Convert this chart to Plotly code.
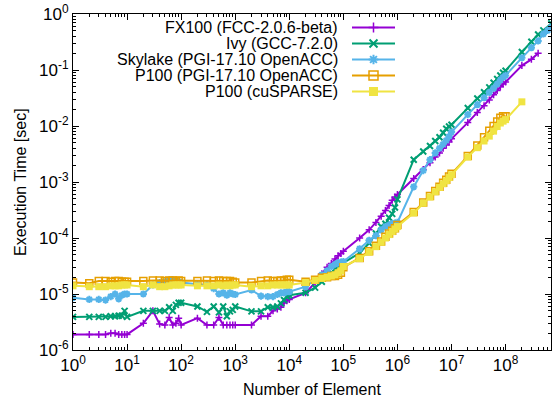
import plotly.graph_objects as go

# ---------------- data ----------------
X = [1, 2, 3, 4, 5, 6, 7, 8, 9,
     10, 20, 30, 40, 50, 60, 70, 80, 90,
     100, 200, 300, 400, 500, 600, 700, 800, 900,
     1e3, 2e3, 3e3, 4e3, 5e3, 6e3, 7e3, 8e3, 9e3,
     1e4, 2e4, 3e4, 4e4, 5e4, 6e4, 7e4, 8e4, 9e4,
     1e5, 2e5, 3e5, 4e5, 5e5, 6e5, 7e5, 8e5, 9e5,
     1e6, 2e6, 3e6, 4e6, 5e6, 6e6, 7e6, 8e6, 9e6,
     1e7, 2e7, 3e7, 4e7, 5e7, 6e7, 7e7, 8e7, 9e7,
     1e8, 2e8, 3e8, 4e8, 5e8, 6e8, 7e8]

fx100 = [1.9e-6, 1.9e-6, 1.9e-6, 1.9e-6, 2.0e-6, 2.0e-6, 1.9e-6, 1.9e-6, 1.9e-6,
         1.9e-6, 3.0e-6, 5.0e-6, 2.9e-6, 2.8e-6, 3.8e-6, 2.8e-6, 3.0e-6, 3.7e-6,
         2.8e-6, 3.7e-6, 2.8e-6, 2.8e-6, 3.8e-6, 2.8e-6, 2.8e-6, 2.8e-6, 2.8e-6,
         2.8e-6, 2.8e-6, 4.0e-6, 4.0e-6, 5.0e-6, 5.4e-6, 5.8e-6, 6.9e-6, 7.6e-6,
         8.0e-6, 1.05e-5, 1.6e-5, 2.3e-5, 3.0e-5, 3.5e-5, 4.2e-5, 4.8e-5, 5.3e-5,
         5.8e-5, 1.0e-4, 1.4e-4, 1.9e-4, 2.45e-4, 3.1e-4, 3.8e-4, 4.7e-4, 5.4e-4,
         6.0e-4, 1.16e-3, 1.67e-3, 2.2e-3, 2.8e-3, 3.3e-3, 4.0e-3, 4.6e-3, 5.2e-3,
         5.9e-3, 1.15e-2, 1.74e-2, 2.3e-2, 2.9e-2, 3.6e-2, 4.3e-2, 5.0e-2, 5.6e-2,
         6.1e-2, 0.12, 0.155, 0.2, None, None, None]

ivy = [3.9e-6, 3.9e-6, 3.9e-6, 3.9e-6, 4.0e-6, 4.0e-6, 4.1e-6, 4.1e-6, 5.0e-6,
       3.9e-6, 5.0e-6, 5.0e-6, 5.0e-6, 5.0e-6, 5.8e-6, 5.0e-6, 6.4e-6, 7.0e-6,
       7.0e-6, 6.0e-6, 4.8e-6, 6.0e-6, 4.7e-6, 6.0e-6, 4.0e-6, 4.9e-6, 5.2e-6,
       6.0e-6, 4.9e-6, 4.9e-6, 5.8e-6, 5.8e-6, 6.0e-6, 6.8e-6, 7.8e-6, 9.0e-6,
       9.5e-6, 1.05e-5, 1.3e-5, 1.65e-5, 2.0e-5, 2.4e-5, 2.8e-5, 3.1e-5, 3.4e-5,
       3.6e-5, 5.4e-5, 8.1e-5, 1.2e-4, 1.6e-4, 1.8e-4, 2.3e-4, 2.7e-4, 3.5e-4,
       4.9e-4, 2.5e-3, 3.5e-3, 4.4e-3, 5.4e-3, 6.3e-3, 7.6e-3, 8.9e-3, 9.8e-3,
       1.05e-2, 2.1e-2, 3.1e-2, 4.0e-2, 4.9e-2, 5.9e-2, 6.9e-2, 8.0e-2, 8.9e-2,
       9.7e-2, 0.21, 0.32, 0.43, 0.51, None, 0.68]

skylake = [8.6e-6, 8.0e-6, 8.0e-6, 7.8e-6, 9.0e-6, 1.0e-5, 8.2e-6, 9.5e-6, 1.0e-5,
           1.0e-5, 1.0e-5, 1.45e-5, 1.6e-5, 1.65e-5, 1.75e-5, 1.8e-5, 1.7e-5, 1.65e-5,
           1.6e-5, 1.5e-5, 1.45e-5, 1.25e-5, 1.0e-5, 1.05e-5, 9.5e-6, 1.05e-5, 1.0e-5,
           9.8e-6, 1.18e-5, 9.2e-6, 9.0e-6, 9.0e-6, 9.8e-6, 1.05e-5, 1.05e-5, 1.1e-5,
           1.1e-5, 1.35e-5, 1.8e-5, 2.2e-5, 2.6e-5, 3.1e-5, 3.4e-5, 3.6e-5, 3.7e-5,
           3.8e-5, 6.4e-5, 9.1e-5, 1.1e-4, 1.4e-4, 1.6e-4, 1.7e-4, 1.8e-4, 1.85e-4,
           1.9e-4, 8.2e-4, 1.6e-3, 2.5e-3, 3.3e-3, 4.0e-3, 4.7e-3, 5.5e-3, 6.5e-3,
           7.8e-3, 1.6e-2, 2.4e-2, 3.2e-2, 4.0e-2, 4.7e-2, 5.6e-2, 6.6e-2, 7.4e-2,
           8.0e-2, 0.165, 0.25, 0.33, 0.44, 0.51, 0.58]

p100_acc = [1.6e-5, 1.55e-5, 1.7e-5, 1.7e-5, 1.65e-5, 1.7e-5, 1.7e-5, 1.65e-5, 1.65e-5,
            1.65e-5, 1.7e-5, 1.75e-5, 1.75e-5, 1.7e-5, 1.75e-5, 1.75e-5, 1.7e-5, 1.75e-5,
            1.7e-5, 1.7e-5, 1.75e-5, 1.7e-5, 1.75e-5, 1.7e-5, 1.7e-5, 1.7e-5, 1.65e-5,
            1.6e-5, 1.6e-5, 1.7e-5, 1.75e-5, 1.7e-5, 1.7e-5, 1.75e-5, 1.75e-5, 1.8e-5,
            1.8e-5, 1.65e-5, 1.8e-5, 1.95e-5, 2.0e-5, 2.1e-5, 2.1e-5, 2.2e-5, 2.4e-5,
            3.0e-5, 4.4e-5, 5.8e-5, 7.3e-5, 8.7e-5, 1.05e-4, 1.2e-4, 1.35e-4, 1.5e-4,
            1.7e-4, 2.9e-4, 4.3e-4, 5.6e-4, 6.9e-4, 8.2e-4, 9.7e-4, 1.1e-3, 1.25e-3,
            1.4e-3, 2.9e-3, 4.5e-3, 6.3e-3, 8.2e-3, 1.0e-2, 1.2e-2, 1.4e-2, 1.5e-2,
            1.5e-2, None, None, None, None, None, None]

p100_cusparse = [1.4e-5, 1.35e-5, 1.35e-5, 1.35e-5, 1.4e-5, 1.4e-5, 1.4e-5, 1.45e-5, 1.45e-5,
                 1.45e-5, 1.35e-5, 1.45e-5, 1.35e-5, 1.35e-5, 1.4e-5, 1.45e-5, 1.45e-5, 1.45e-5,
                 1.45e-5, 1.4e-5, 1.4e-5, 1.4e-5, 1.45e-5, 1.4e-5, 1.45e-5, 1.4e-5, 1.45e-5,
                 1.45e-5, 1.35e-5, 1.4e-5, 1.4e-5, 1.45e-5, 1.45e-5, 1.45e-5, 1.45e-5, 1.45e-5,
                 1.45e-5, 1.6e-5, 1.75e-5, 1.9e-5, 2.0e-5, 2.1e-5, 2.2e-5, 2.4e-5, 2.6e-5,
                 3.1e-5, 4.3e-5, 5.6e-5, 7.0e-5, 8.4e-5, 1.0e-4, 1.15e-4, 1.3e-4, 1.45e-4,
                 1.6e-4, 2.8e-4, 4.2e-4, 5.4e-4, 6.7e-4, 8.0e-4, 9.3e-4, 1.05e-3, 1.2e-3,
                 1.35e-3, 2.8e-3, 4.1e-3, 5.4e-3, 6.6e-3, 8.1e-3, 9.8e-3, 1.13e-2, 1.22e-2,
                 1.3e-2, 2.7e-2, None, None, None, None, None]

series_names = ["FX100 (FCC-2.0.6-beta)", "Ivy (GCC-7.2.0)", "Skylake (PGI-17.10 OpenACC)",
                "P100 (PGI-17.10 OpenACC)", "P100 (cuSPARSE)"]
series_values = [fx100, ivy, skylake, p100_acc, p100_cusparse]

x_tick_vals = [1, 10, 100, 1e3, 1e4, 1e5, 1e6, 1e7, 1e8]
x_tick_text = ["10<sup>%d</sup>" % k for k in range(0, 9)]
y_tick_vals = [1e-6, 1e-5, 1e-4, 1e-3, 1e-2, 1e-1, 1]
y_tick_text = ["10<sup>-6</sup>", "10<sup>-5</sup>", "10<sup>-4</sup>", "10<sup>-3</sup>",
               "10<sup>-2</sup>", "10<sup>-1</sup>", "10<sup>0</sup>"]

# ---------------- styles ----------------
colors = ["#9400d3", "#009e73", "#56b4e9", "#e69f00", "#f0e442"]
symbols = ["cross-thin-open", "x-thin-open", "asterisk-open", "square-open", "square"]
msizes = [5, 6, 6, 7, 7]
mlw = [1.5, 2, 2, 1.5, 0]
FONT = "Liberation Sans, Arial, sans-serif"

W, H = 554, 403
L, R, T, B = 73, 3, 14, 53
PW, PH = W - L - R, H - T - B


def px_x(p):
    return (p - L) / PW


def px_y(p):
    return (H - B - p) / PH


fig = go.Figure()

for name, vals, c, s, ms, lw in zip(series_names, series_values, colors, symbols, msizes, mlw):
    xs = [x for x, v in zip(X, vals) if v is not None]
    ys = [v for v in vals if v is not None]
    fig.add_trace(go.Scatter(
        x=xs, y=ys, mode="lines+markers", name=name, showlegend=False,
        line=dict(color=c, width=2),
        marker=dict(symbol=s, size=ms, color=c, line=dict(color=c, width=lw)),
        xaxis="x", yaxis="y"))

# ---------------- custom legend (text left, sample right) ----------------
leg_y0, leg_dy = 27.5, 16.0
for i, (name, c, s, ms, lw) in enumerate(zip(series_names, colors, symbols, msizes, mlw)):
    yy = leg_y0 + i * leg_dy
    fig.add_trace(go.Scatter(x=[352, 395], y=[yy, yy], mode="lines",
                             line=dict(color=c, width=2), showlegend=False,
                             hoverinfo="skip", xaxis="x2", yaxis="y2"))
    fig.add_trace(go.Scatter(x=[373.5], y=[yy], mode="markers",
                             marker=dict(symbol=s, size=ms + 2, color=c, line=dict(color=c, width=lw)),
                             showlegend=False, hoverinfo="skip", xaxis="x2", yaxis="y2"))
    fig.add_annotation(x=px_x(340), y=px_y(yy), xref="paper", yref="paper", text=name,
                       showarrow=False, xanchor="right", yanchor="middle",
                       font=dict(family=FONT, size=16, color="black"))

# axis titles
fig.add_annotation(x=px_x(312), y=px_y(389), xref="paper", yref="paper", text="Number of Element",
                   showarrow=False, xanchor="center", yanchor="middle",
                   font=dict(family=FONT, size=16, color="black"))
fig.add_annotation(x=px_x(20), y=px_y(182), xref="paper", yref="paper", text="Execution Time [sec]",
                   showarrow=False, xanchor="center", yanchor="middle", textangle=-90,
                   font=dict(family=FONT, size=16, color="black"))

x_minor = [m * 10 ** k for k in range(0, 9) for m in range(2, 10)]
y_minor = [m * 10.0 ** k for k in range(-6, 0) for m in range(2, 10)]

axis_common = dict(type="log", showline=True, linecolor="black", linewidth=1,
                   mirror="ticks", ticks="inside", ticklen=6, tickcolor="black", tickwidth=1,
                   showgrid=False, zeroline=False, tickmode="array",
                   tickfont=dict(family=FONT, size=17, color="black"))

fig.update_layout(
    width=W, height=H,
    margin=dict(l=L, r=R, t=T, b=B, pad=0),
    paper_bgcolor="white", plot_bgcolor="white",
    showlegend=False,
    xaxis=dict(axis_common, range=[0, 8.84], tickvals=x_tick_vals, ticktext=x_tick_text,
               minor=dict(ticks="inside", ticklen=3, tickcolor="black", tickmode="array",
                          tickvals=x_minor, showgrid=False)),
    yaxis=dict(axis_common, range=[-6, 0], tickvals=y_tick_vals, ticktext=y_tick_text,
               minor=dict(ticks="inside", ticklen=3, tickcolor="black", tickmode="array",
                          tickvals=y_minor, showgrid=False)),
    xaxis2=dict(overlaying="x", anchor="y2", range=[L, W - R], visible=False, fixedrange=True),
    yaxis2=dict(overlaying="y", anchor="x2", range=[H - B, T], visible=False, fixedrange=True),
)

fig.write_html("out.html", config={"displayModeBar": False},
               post_script="document.body.style.margin='0';document.body.style.overflow='hidden';")
